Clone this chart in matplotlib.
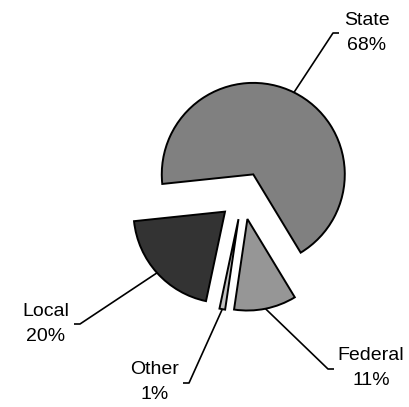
import numpy as np
import matplotlib.pyplot as plt

plt.rcParams['font.family'] = ['Liberation Sans', 'DejaVu Sans']

# data
categories = ['State', 'Local', 'Other', 'Federal']
shares = [68, 20, 1, 11]
slice_colors = ['#808080', '#333333', '#c0c0c0', '#969696']

# layout (pixels in the 409x407 picture)
W, H = 409, 407
center_px = (242.7, 195.7)
radius_px = 91.5
# elbow of each leader line, and label block centre
elbows_px = [(333, 33), (80, 324), (189, 383), (328, 369)]
label_px = [(367, 33), (46, 324), (155, 382), (371, 368)]


def to_units(p):
    # picture pixels -> pie units (radius 1, y up)
    return ((p[0] - center_px[0]) / radius_px, (center_px[1] - p[1]) / radius_px)


fig = plt.figure(figsize=(W / 100, H / 100), dpi=100)
ax = fig.add_axes([0, 0, 1, 1])

explode = 0.26
wedges, _ = ax.pie(shares, colors=slice_colors, startangle=-58.8, counterclock=True,
                   radius=1, center=(0, 0), explode=[explode] * len(shares),
                   wedgeprops=dict(edgecolor='black', linewidth=1.4))

# pie() resets the limits, so set them afterwards
ax.set_xlim(-center_px[0] / radius_px, (W - center_px[0]) / radius_px)
ax.set_ylim(-(H - center_px[1]) / radius_px, center_px[1] / radius_px)
ax.set_aspect('equal')
ax.axis('off')

for w, name, val, elb, lab in zip(wedges, categories, shares, elbows_px, label_px):
    mid = np.deg2rad((w.theta1 + w.theta2) / 2)
    cx, cy = w.center
    sx, sy = cx + np.cos(mid), cy + np.sin(mid)
    ex, ey = to_units(elb)
    # short horizontal stub towards the label
    lx, _ = to_units(lab)
    stub = 6 / radius_px * (1 if lx > ex else -1)
    ax.plot([sx, ex, ex + stub], [sy, ey, ey], color='black', lw=1.2,
            solid_capstyle='butt')
    tx, ty = to_units(lab)
    ax.text(tx, ty, f"{name}\n{val}%", ha='center', va='center',
            fontsize=14, linespacing=1.62, color='black')

fig.savefig('out.png', dpi=100)
